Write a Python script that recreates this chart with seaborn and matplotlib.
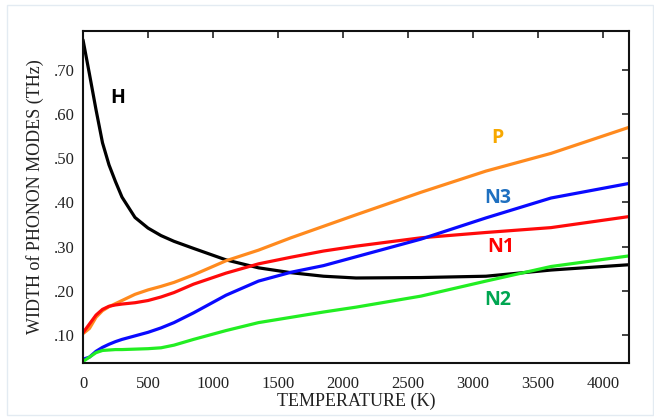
import matplotlib
matplotlib.use("Agg")
import matplotlib.pyplot as plt
from matplotlib.patches import Rectangle
import seaborn as sns
import pandas as pd

temperature = [0, 50, 100, 150, 200, 250, 300, 400, 500, 600, 700, 850, 1100, 1350, 1600, 1850, 2100, 2600, 3100, 3600, 4200]
H = [0.768, 0.69, 0.61, 0.535, 0.485, 0.447, 0.412, 0.366, 0.342, 0.325, 0.312, 0.296, 0.270, 0.252, 0.241, 0.233, 0.229, 0.230, 0.233, 0.247, 0.259]
P = [0.103, 0.115, 0.140, 0.155, 0.164, 0.171, 0.178, 0.192, 0.202, 0.210, 0.219, 0.236, 0.268, 0.292, 0.320, 0.346, 0.372, 0.423, 0.471, 0.511, 0.570]
N1 = [0.105, 0.125, 0.145, 0.158, 0.165, 0.168, 0.170, 0.173, 0.178, 0.186, 0.196, 0.215, 0.240, 0.261, 0.276, 0.290, 0.301, 0.320, 0.332, 0.343, 0.368]
N3 = [0.045, 0.050, 0.063, 0.072, 0.079, 0.085, 0.090, 0.098, 0.106, 0.116, 0.128, 0.150, 0.190, 0.222, 0.242, 0.257, 0.277, 0.317, 0.365, 0.410, 0.443]
N2 = [0.040, 0.050, 0.060, 0.065, 0.066, 0.067, 0.067, 0.068, 0.069, 0.071, 0.077, 0.090, 0.110, 0.128, 0.140, 0.152, 0.163, 0.188, 0.222, 0.255, 0.279]

series_names = ["H", "P", "N1", "N3", "N2"]
line_colors = {"H": "#000000", "P": "#FF8A1E", "N1": "#FF0A0A", "N3": "#0A0AFF", "N2": "#22EE22"}
label_colors = {"H": "#000000", "P": "#F7A800", "N1": "#FF0000", "N3": "#1F70C0", "N2": "#00A651"}
label_pos = {"H": (270, 0.637), "P": (3190, 0.546), "N3": (3190, 0.41), "N1": (3215, 0.30), "N2": (3190, 0.18)}

xticks = [0, 500, 1000, 1500, 2000, 2500, 3000, 3500, 4000]
yticks = [0.10, 0.20, 0.30, 0.40, 0.50, 0.60, 0.70]
ytick_labels = [".10", ".20", ".30", ".40", ".50", ".60", ".70"]

rows = []
for name, vals in zip(series_names, [H, P, N1, N3, N2]):
    for t, v in zip(temperature, vals):
        rows.append({"T": t, "width": v, "mode": name})
df = pd.DataFrame(rows)

sns.set_style("white")
plt.rcParams["font.family"] = ["Liberation Serif", "DejaVu Serif"]

fig = plt.figure(figsize=(6.54, 4.2), dpi=100)
fig.patches.append(Rectangle((7 / 654, 5 / 420), 646 / 654, 410 / 420, transform=fig.transFigure,
                             fill=False, edgecolor="#e3ebf2", linewidth=1.0))
ax = fig.add_axes([83 / 654, 1 - 363 / 420, 546 / 654, 332 / 420])

sns.lineplot(data=df, x="T", y="width", hue="mode", palette=line_colors,
             hue_order=series_names, linewidth=2.3, legend=False, ax=ax)

ax.set_xlim(0, 4200)
ax.set_ylim(0.0366, 0.788)
ax.set_xticks(xticks)
ax.set_xticklabels([str(x) for x in xticks])
ax.set_yticks(yticks)
ax.set_yticklabels(ytick_labels)
ax.tick_params(direction="in", length=5, width=1.2, top=True, right=True,
               labelsize=12, colors="#222222")
ax.tick_params(axis="x", pad=9)
ax.tick_params(axis="y", pad=6)
for s in ax.spines.values():
    s.set_linewidth(1.5)
    s.set_color("#111111")

ax.set_xlabel("TEMPERATURE (K)", fontsize=13, color="#222222", labelpad=1)
ax.set_ylabel("WIDTH of PHONON MODES (THz)", fontsize=13, color="#222222", labelpad=7)

for name, (x, y) in label_pos.items():
    ax.text(x, y, name, color=label_colors[name], fontsize=14, fontweight="bold",
            family=["Open Sans", "DejaVu Sans"], ha="center", va="center")

fig.savefig("out.png", dpi=100)
